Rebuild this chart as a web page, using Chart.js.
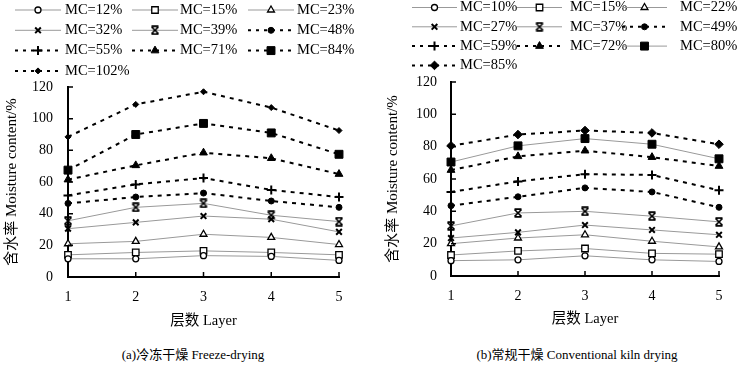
<!DOCTYPE html>
<html lang="zh">
<head>
<meta charset="UTF-8">
<title>Moisture content by layer</title>
<script src="https://cdn.jsdelivr.net/npm/chart.js"></script>
<style>
  body { margin: 0; background: #fff; font-family: "Liberation Serif", "Times New Roman", "Noto Sans CJK SC", serif; }
  .panel { position: absolute; top: 0; }
  .caption { position: absolute; top: 344px; font-size: 13px; white-space: nowrap; transform: translateX(-50%); color: #000; }
</style>
</head>
<body>

<canvas id="freeze" class="panel" style="left:0" width="370" height="340"></canvas>
<canvas id="kiln" class="panel" style="left:370px" width="369" height="340"></canvas>
<div class="caption" style="left:193px">(a)冷冻干燥 Freeze-drying</div>
<div class="caption" style="left:577px">(b)常规干燥 Conventional kiln drying</div>

<script>
  // layers on the x axis
  const layers = [1, 2, 3, 4, 5];
  const yTicks = [0, 20, 40, 60, 80, 100, 120];

  // (a) freeze-drying
  const freezeLabels = ["MC=12%", "MC=15%", "MC=23%", "MC=32%", "MC=39%", "MC=48%", "MC=55%", "MC=71%", "MC=84%", "MC=102%"];
  const freezeMC12 = [11.5, 11.5, 13.5, 13, 10.5];
  const freezeMC15 = [14, 15.5, 16.5, 15.5, 14];
  const freezeMC23 = [21, 22.5, 27, 25, 20.5];
  const freezeMC32 = [30.5, 34.5, 38.5, 36.5, 28.5];
  const freezeMC39 = [35.5, 44, 46.5, 39, 35];
  const freezeMC48 = [46.5, 50.5, 53, 48, 44];
  const freezeMC55 = [51.5, 58.5, 62.5, 55, 50.5];
  const freezeMC71 = [61.5, 70.5, 78.5, 75, 65];
  const freezeMC84 = [67.5, 90, 97, 91, 77.5];
  const freezeMC102 = [88.5, 109, 117, 107, 92.5];

  // (b) conventional kiln drying
  const kilnLabels = ["MC=10%", "MC=15%", "MC=22%", "MC=27%", "MC=37%", "MC=49%", "MC=59%", "MC=72%", "MC=80%", "MC=85%"];
  const kilnMC10 = [9.5, 10, 12.5, 10, 9];
  const kilnMC15 = [13, 15.5, 17, 14, 13.5];
  const kilnMC22 = [20, 23.5, 25.5, 21.5, 18];
  const kilnMC27 = [23.5, 27, 31.5, 28.5, 25.5];
  const kilnMC37 = [31, 39, 40, 37, 33.5];
  const kilnMC49 = [43.5, 49, 54.5, 52, 42.5];
  const kilnMC59 = [52, 58.5, 63, 62.5, 53];
  const kilnMC72 = [65.5, 74, 77.5, 73.5, 68];
  const kilnMC80 = [70.5, 80.5, 85, 81.5, 72.5];
  const kilnMC85 = [80.5, 87.5, 90, 88.5, 81.5];

  const FONT = '"Liberation Serif", "Times New Roman", "Noto Sans CJK SC", serif';

  // excel-like "star" marker: an X with bars top and bottom
  function makeStar() {
    const c = document.createElement('canvas');
    c.width = 10; c.height = 10;
    const g = c.getContext('2d');
    g.strokeStyle = '#000';
    g.lineWidth = 1.7;
    g.beginPath();
    g.moveTo(1.5, 1.5); g.lineTo(8.5, 8.5);
    g.moveTo(8.5, 1.5); g.lineTo(1.5, 8.5);
    g.moveTo(1.5, 1.2); g.lineTo(8.5, 1.2);
    g.moveTo(1.5, 8.8); g.lineTo(8.5, 8.8);
    g.stroke();
    return c;
  }

  const MARKERS = {
    openCircle:   { style: 'circle',   r: 3,   fill: '#fff', bw: 1.3 },
    openSquare:   { style: 'rect',     r: 4.6, fill: '#fff', bw: 1.3 },
    openTriangle: { style: 'triangle', r: 4,   fill: '#fff', bw: 1.3 },
    cross:        { style: 'crossRot', r: 4,   fill: '#000', bw: 2 },
    star:         { style: makeStar(), r: 5,   fill: '#000', bw: 1 },
    dot:          { style: 'circle',   r: 3,   fill: '#000', bw: 1 },
    plus:         { style: 'cross',    r: 4.5, fill: '#000', bw: 2 },
    triangle:     { style: 'triangle', r: 4.5, fill: '#000', bw: 1 },
    square:       { style: 'rect',     r: 5.6, fill: '#000', bw: 1 },
    smallDiamond: { style: 'rectRot',  r: 3,   fill: '#000', bw: 1 },
    diamond:      { style: 'rectRot',  r: 4.3, fill: '#000', bw: 1 }
  };

  function series(label, values, marker, dashed) {
    const m = MARKERS[marker];
    return {
      label: label,
      data: values.map((v, i) => ({ x: layers[i], y: v })),
      borderColor: dashed ? '#000' : '#999',
      borderWidth: dashed ? 2 : 1,
      borderDash: dashed ? [4, 5] : [],
      pointStyle: m.style,
      pointRadius: m.r,
      pointHoverRadius: m.r,
      pointBackgroundColor: m.fill,
      pointBorderColor: '#000',
      pointBorderWidth: m.bw,
      tension: 0,
      clip: false
    };
  }

  const gridLegend = {
    id: 'gridLegend',
    afterDraw(chart, args, opts) {
      const ctx = chart.ctx;
      ctx.save();
      chart.data.datasets.forEach((ds, i) => {
        const col = i % 3, row = Math.floor(i / 3);
        const x0 = opts.colX[col], x1 = x0 + opts.sampleLen;
        const y = opts.rowY0 + row * opts.rowGap;
        ctx.strokeStyle = ds.borderColor;
        ctx.lineWidth = ds.borderWidth;
        ctx.setLineDash(ds.borderDash.length ? [3, 5] : []);
        ctx.beginPath();
        ctx.moveTo(x0, y);
        ctx.lineTo(x1, y);
        ctx.stroke();
        ctx.setLineDash([]);
        ctx.fillStyle = ds.pointBackgroundColor;
        ctx.strokeStyle = ds.pointBorderColor;
        ctx.lineWidth = ds.pointBorderWidth;
        Chart.helpers.drawPoint(ctx, {
          pointStyle: ds.pointStyle, radius: ds.pointRadius, rotation: 0, borderWidth: ds.pointBorderWidth
        }, (x0 + x1) / 2, y);
        ctx.fillStyle = '#000';
        ctx.font = '14.5px ' + FONT;
        ctx.textAlign = 'left';
        ctx.textBaseline = 'middle';
        ctx.fillText(ds.label, opts.textX[col], y);
      });
      ctx.restore();
    }
  };

  // small tick marks pointing into the plot
  const innerTicks = {
    id: 'innerTicks',
    afterDraw(chart) {
      const { ctx, chartArea, scales } = chart;
      ctx.save();
      ctx.strokeStyle = '#000';
      ctx.lineWidth = 1.5;
      ctx.beginPath();
      scales.x.ticks.forEach(t => {
        const px = scales.x.getPixelForValue(t.value);
        ctx.moveTo(px, chartArea.bottom);
        ctx.lineTo(px, chartArea.bottom - 5);
      });
      scales.y.ticks.forEach(t => {
        const py = scales.y.getPixelForValue(t.value);
        ctx.moveTo(chartArea.left, py);
        ctx.lineTo(chartArea.left + 5, py);
      });
      ctx.stroke();
      ctx.restore();
    }
  };

  function makeChart(id, datasets, lay) {
    new Chart(document.getElementById(id), {
      type: 'line',
      data: { datasets: datasets },
      plugins: [gridLegend, innerTicks],
      options: {
        responsive: false,
        animation: false,
        devicePixelRatio: 1,
        layout: { padding: { top: lay.top, right: lay.right, left: 0, bottom: 0 } },
        plugins: {
          legend: { display: false },
          tooltip: { enabled: false },
          gridLegend: lay.legend
        },
        scales: {
          x: {
            type: 'linear',
            min: 1, max: 5,
            afterFit: s => { s.height = lay.xHeight; },
            afterBuildTicks: s => { s.ticks = layers.map(v => ({ value: v })); },
            grid: { display: true, drawOnChartArea: false, drawTicks: false },
            border: { color: '#000', width: 2 },
            ticks: { padding: 12, color: '#000', font: { family: FONT, size: 14 } },
            title: {
              display: true, text: '层数 Layer', color: '#000',
              font: { family: FONT, size: 14.5 }, padding: { top: 0, bottom: lay.xTitlePad }
            }
          },
          y: {
            min: 0, max: 120,
            afterFit: s => { s.width = lay.yWidth; },
            afterBuildTicks: s => { s.ticks = yTicks.map(v => ({ value: v })); },
            grid: { display: true, drawOnChartArea: false, drawTicks: false },
            border: { color: '#000', width: 2 },
            ticks: { padding: lay.yTickPad, color: '#000', font: { family: FONT, size: 14 } },
            title: {
              display: true, text: '含水率 Moisture content/%', color: '#000',
              font: { family: FONT, size: 15 }, padding: { top: lay.yTitlePad, bottom: 0 }
            }
          }
        }
      }
    });
  }

  const freezeValues = [freezeMC12, freezeMC15, freezeMC23, freezeMC32, freezeMC39, freezeMC48, freezeMC55, freezeMC71, freezeMC84, freezeMC102];
  const freezeMarkers = ['openCircle', 'openSquare', 'openTriangle', 'cross', 'star', 'dot', 'plus', 'triangle', 'square', 'smallDiamond'];
  const freezeDashed = [false, false, false, false, false, true, true, true, true, true];

  const kilnValues = [kilnMC10, kilnMC15, kilnMC22, kilnMC27, kilnMC37, kilnMC49, kilnMC59, kilnMC72, kilnMC80, kilnMC85];
  const kilnMarkers = ['openCircle', 'openSquare', 'openTriangle', 'cross', 'star', 'dot', 'plus', 'triangle', 'square', 'diamond'];
  const kilnDashed = [false, false, false, false, false, true, true, true, false, true];

  makeChart('freeze',
    freezeValues.map((v, i) => series(freezeLabels[i], v, freezeMarkers[i], freezeDashed[i])),
    {
      top: 87, right: 31, xHeight: 63, yWidth: 68, yTickPad: 15, yTitlePad: 3.5, xTitlePad: 10,
      legend: { colX: [15, 132, 248], textX: [65, 180, 297], sampleLen: 46, rowY0: 10, rowGap: 20.3 }
    });

  makeChart('kiln',
    kilnValues.map((v, i) => series(kilnLabels[i], v, kilnMarkers[i], kilnDashed[i])),
    {
      top: 82, right: 20, xHeight: 64, yWidth: 81, yTickPad: 14, yTitlePad: 14, xTitlePad: 12.5,
      legend: { colX: [42, 147, 252], textX: [90, 200, 310], sampleLen: 45, rowY0: 7.5, rowGap: 19.3 }
    });
</script>

</body>
</html>
